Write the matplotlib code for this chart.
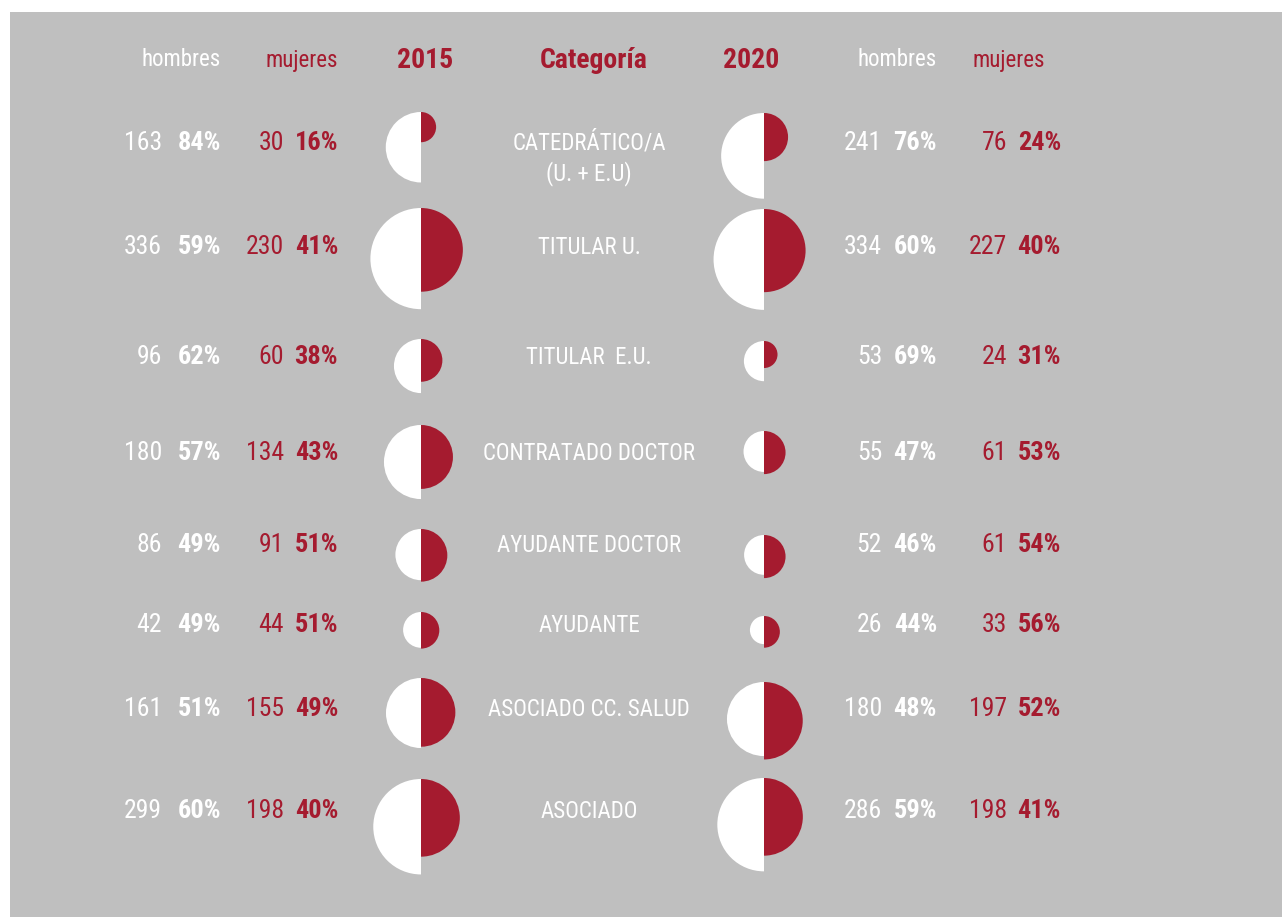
import matplotlib
matplotlib.use("Agg")
import matplotlib.pyplot as plt
import numpy as np
from matplotlib.patches import Wedge, Rectangle
from matplotlib import font_manager

# data
categorias = ['CATEDRÁTICO/A\n(U. + E.U)', 'TITULAR U.', 'TITULAR  E.U.', 'CONTRATADO DOCTOR',
              'AYUDANTE DOCTOR', 'AYUDANTE', 'ASOCIADO CC. SALUD', 'ASOCIADO']
hombres_2015 = [163, 336, 96, 180, 86, 42, 161, 299]
mujeres_2015 = [30, 230, 60, 134, 91, 44, 155, 198]
pct_h_2015 = [84, 59, 62, 57, 49, 49, 51, 60]
pct_m_2015 = [16, 41, 38, 43, 51, 51, 49, 40]
hombres_2020 = [241, 334, 53, 55, 52, 26, 180, 286]
mujeres_2020 = [76, 227, 24, 61, 61, 33, 197, 198]
pct_h_2020 = [76, 60, 69, 47, 46, 44, 48, 59]
pct_m_2020 = [24, 40, 31, 53, 54, 56, 52, 41]

# layout (pixels)
W, H = 1282, 917
row_y = [143, 247, 357, 453, 545, 625, 709, 811]
top_2015 = [112, 208, 339, 425, 529, 612, 678, 779]
top_2020 = [113, 209, 341, 431, 535, 616, 682, 778]
cx_2015, cx_2020 = 421, 764
k = 2.76  # px per sqrt(persona)

grey = '#bfbfbf'
red = '#a51b2f'
white = '#ffffff'

names = {f.name for f in font_manager.fontManager.ttflist}
cond = [n for n in ['Roboto Condensed', 'Liberation Sans Narrow', 'Open Sans Condensed',
                    'DejaVu Sans Condensed'] if n in names]
FONT = cond[:1] + ['DejaVu Sans']
scale = 1.0 if cond else 0.82

fig = plt.figure(figsize=(W / 100, H / 100), dpi=100)
fig.patch.set_facecolor('white')
ax = fig.add_axes([0, 0, 1, 1])
ax.set_xlim(0, W)
ax.set_ylim(H, 0)
ax.set_aspect('equal')
ax.axis('off')

ax.add_patch(Rectangle((10, 12), W - 10, H - 12, facecolor=grey, edgecolor='none'))


def txt(x, y, s, color, size, weight='normal', ha='center', **kw):
    ax.text(x, y, s, color=color, fontsize=size * scale, fontweight=weight, ha=ha, va='center',
            family=FONT, fontstretch='condensed', **kw)


# headers
txt(181, 60, 'hombres', white, 16.5)
txt(302, 60, 'mujeres', red, 16.5)
txt(425, 60, '2015', red, 20, 'bold')
txt(594, 60, 'Categoría', red, 20, 'bold')
txt(751, 60, '2020', red, 20, 'bold')
txt(897, 60, 'hombres', white, 16.5)
txt(1009, 60, 'mujeres', red, 16.5)


def half_circles(cx, top, h, m):
    rh = k * np.sqrt(h)
    rm = k * np.sqrt(m)
    ax.add_patch(Wedge((cx, top + rh), rh, 90, 270, facecolor=white, edgecolor='none'))
    ax.add_patch(Wedge((cx, top + rm), rm, -90, 90, facecolor=red, edgecolor='none'))


for i, cat in enumerate(categorias):
    y = row_y[i]
    # 2015
    txt(162, y, str(hombres_2015[i]), white, 18.5, ha='right')
    txt(221, y, f'{pct_h_2015[i]}%', white, 19, 'bold', ha='right')
    txt(284, y, str(mujeres_2015[i]), red, 18.5, ha='right')
    txt(338, y, f'{pct_m_2015[i]}%', red, 19, 'bold', ha='right')
    # 2020
    txt(882, y, str(hombres_2020[i]), white, 18.5, ha='right')
    txt(937, y, f'{pct_h_2020[i]}%', white, 19, 'bold', ha='right')
    txt(1007, y, str(mujeres_2020[i]), red, 18.5, ha='right')
    txt(1061, y, f'{pct_m_2020[i]}%', red, 19, 'bold', ha='right')
    # category
    if '\n' in cat:
        ax.text(589, y - 12, cat, color=white, fontsize=16.5 * scale, ha='center', va='top',
                family=FONT, fontstretch='condensed', linespacing=1.35)
    else:
        txt(589, y, cat, white, 16.5)
    half_circles(cx_2015, top_2015[i], hombres_2015[i], mujeres_2015[i])
    half_circles(cx_2020, top_2020[i], hombres_2020[i], mujeres_2020[i])

fig.savefig('out.png', dpi=100, facecolor=fig.get_facecolor())
